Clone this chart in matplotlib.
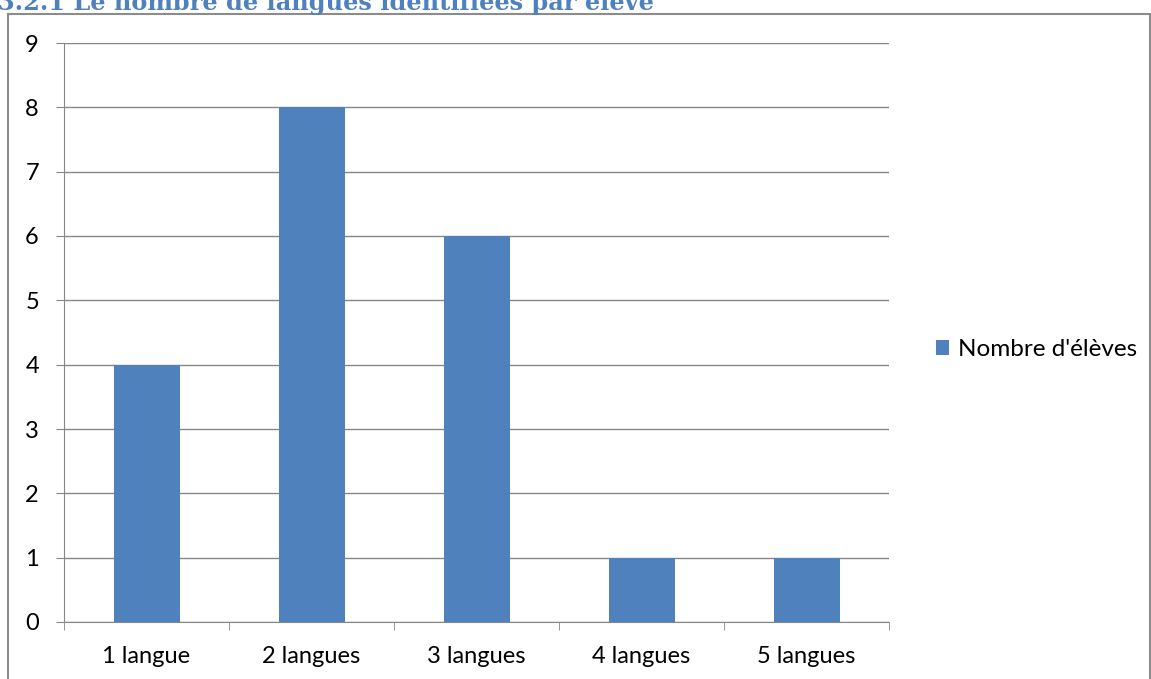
import numpy as np
from matplotlib import pyplot as plt
from matplotlib.patches import Rectangle

categories = ['1 langue', '2 langues', '3 langues', '4 langues', '5 langues']
eleves = [4, 8, 6, 1, 1]
serie = "Nombre d'élèves"
titre = '3.2.1 Le nombre de langues identifiées par élève'

W, H = 1151, 679
fig = plt.figure(figsize=(W/100, H/100), dpi=100)
plt.rcParams['font.family'] = ['Lato', 'DejaVu Sans']

# cadre du graphique (coupé en bas et à droite)
fig.patches.append(Rectangle((8/W, -0.05), (1150-8)/W, 1.05 - 14/H,
                             transform=fig.transFigure, fill=False,
                             edgecolor='#8c8c8c', lw=1.5))
# titre de section, à moitié coupé en haut
fig.text(-2/W, 1 - 10/H, titre, family='DejaVu Serif', weight='bold',
         color='#4f81bd', fontsize=17.3, va='baseline', ha='left')

ax = fig.add_axes([64/W, 1 - 622/H, (889-64)/W, (622-43)/H])
x = np.arange(len(categories))
ax.bar(x, eleves, width=0.4, color='#4f81bd', label=serie, zorder=3)
ax.set_xlim(-0.5, len(categories) - 0.5)
ax.set_ylim(0, 9)
ax.set_yticks(range(10))
ax.set_xticks(x, categories)
ax.set_xticks(np.arange(-0.5, len(categories)), minor=True)
ax.tick_params(axis='x', which='major', length=0, pad=17, labelsize=17)
ax.tick_params(axis='x', which='minor', length=6, color='#868686', direction='out')
ax.tick_params(axis='y', length=6, color='#868686', pad=12, labelsize=17)
ax.yaxis.grid(True, color='#868686', lw=1, zorder=0)
for s in ['top', 'right']:
    ax.spines[s].set_visible(False)
for s in ['left', 'bottom']:
    ax.spines[s].set_color('#868686')

ax.legend(loc='center left', bbox_to_anchor=(1.045, 0.47), frameon=False,
          fontsize=17.5, handlelength=0.55, handleheight=0.55, handletextpad=0.35,
          borderaxespad=0)

fig.savefig('out.png', dpi=100)
